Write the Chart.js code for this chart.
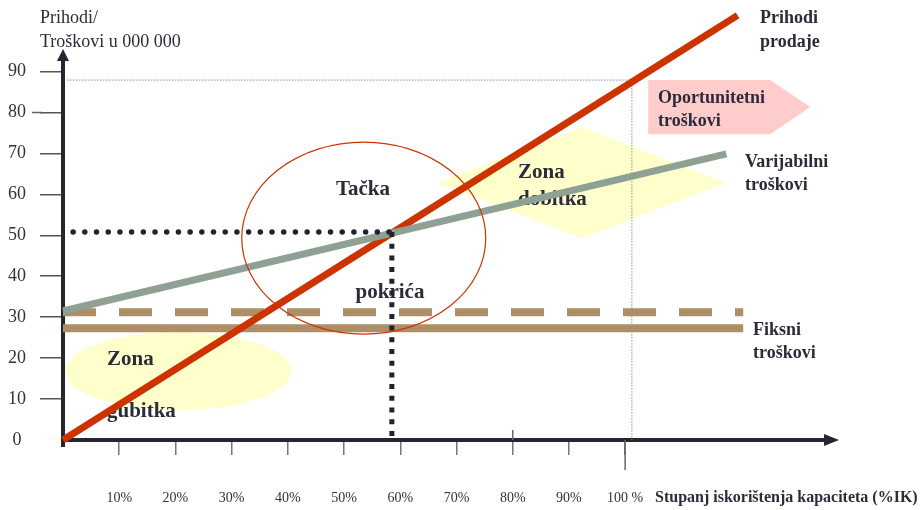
<!DOCTYPE html>
<html>
<head>
<meta charset="utf-8">
<script src="https://cdn.jsdelivr.net/npm/chart.js@4"></script>
<style>
html,body{margin:0;padding:0;background:#ffffff;}
#wrap{width:923px;height:510px;}
</style>
</head>
<body>
<div id="wrap"><canvas id="c" width="923" height="510"></canvas></div>
<script>
// ---- data (capacity in %, amounts in 000 000) ----
const revenuePct = [0, 100, 120];
const revenue = [0, 86.4, 103.7];
const varCostPct = [0, 100, 118];
const variableCost = [31.5, 64.0, 69.9];
const fixedPct = [0, 121];
const fixedCostDashed = [31.2, 31.2];
const fixedCost = [27.3, 27.3];
const breakEvenHPct = [1.8, 58.5];
const breakEvenHValue = [50.8, 50.8];
const breakEvenVPct = [58.5, 58.5];
const breakEvenVValue = [50.8, 0];
const fullCapPct = [0.7, 101.2, 101.2];
const fullCapValue = [87.9, 87.9, 0];
const xTicks = [10, 20, 30, 40, 50, 60, 70, 80, 90, 100];
const xTickLabels = ['10%', '20%', '30%', '40%', '50%', '60%', '70%', '80%', '90%', '100 %'];
const yTicks = [0, 10, 20, 30, 40, 50, 60, 70, 80, 90];

const pts = (xs, ys) => xs.map((v, i) => ({x: v, y: ys[i]}));
const SERIF = '"Liberation Serif", "Times New Roman", serif';
const TXT = '#2b2b3a';

const deco = {
  id: 'deco',
  beforeDatasetsDraw(chart) {
    const {ctx, scales: {x, y}} = chart;
    const X = v => x.getPixelForValue(v), Y = v => y.getPixelForValue(v);
    ctx.save();
    // zone of loss (ellipse)
    ctx.fillStyle = '#ffffcc';
    ctx.beginPath();
    ctx.ellipse(X(20.5), Y(16.8), 113, 39, 0, 0, Math.PI * 2);
    ctx.fill();
    // zone of profit (diamond)
    ctx.beginPath();
    ctx.moveTo(X(66.5), Y(62.8));
    ctx.lineTo(X(92.3), Y(76.4));
    ctx.lineTo(X(117.9), Y(62.8));
    ctx.lineTo(X(92.3), Y(49.3));
    ctx.closePath();
    ctx.fill();
    // opportunity cost arrow
    ctx.fillStyle = '#ffcccc';
    ctx.beginPath();
    ctx.moveTo(X(104.1), Y(87.9));
    ctx.lineTo(X(125.8), Y(87.9));
    ctx.lineTo(X(132.9), Y(81.3));
    ctx.lineTo(X(125.8), Y(74.7));
    ctx.lineTo(X(104.1), Y(74.7));
    ctx.closePath();
    ctx.fill();

    // axes with arrows
    const x0 = X(0), y0 = Y(0);
    ctx.strokeStyle = '#262633';
    ctx.fillStyle = '#262633';
    ctx.lineWidth = 4;
    ctx.beginPath();
    ctx.moveTo(x0, y0 + 7);
    ctx.lineTo(x0, 58);
    ctx.moveTo(x0 - 2, y0);
    ctx.lineTo(826, y0);
    ctx.stroke();
    ctx.beginPath();
    ctx.moveTo(x0, 49); ctx.lineTo(x0 - 6, 61); ctx.lineTo(x0 + 6, 61); ctx.closePath();
    ctx.fill();
    ctx.beginPath();
    ctx.moveTo(839, y0); ctx.lineTo(824, y0 - 6); ctx.lineTo(824, y0 + 6); ctx.closePath();
    ctx.fill();

    // extra tick details
    ctx.strokeStyle = '#666';
    ctx.lineWidth = 1.5;
    ctx.beginPath();
    ctx.moveTo(X(80), y0 - 10); ctx.lineTo(X(80), y0);
    ctx.moveTo(X(100), y0); ctx.lineTo(X(100), y0 + 30);
    ctx.moveTo(32, Y(80)); ctx.lineTo(42, Y(80));
    ctx.stroke();

    // inner labels
    ctx.fillStyle = TXT;
    ctx.textBaseline = 'middle';
    ctx.font = 'bold 21px ' + SERIF;
    ctx.textAlign = 'center';
    ctx.fillText('Tačka', 363, 190);
    ctx.fillText('pokrića', 390, 293);
    ctx.textAlign = 'left';
    ctx.fillText('Zona', 518, 173);
    ctx.fillText('dobitka', 518, 200);
    ctx.fillText('Zona', 107, 360);
    ctx.fillText('gubitka', 107, 412);
    ctx.restore();
  },
  afterDatasetsDraw(chart) {
    const {ctx, scales: {x, y}} = chart;
    const X = v => x.getPixelForValue(v), Y = v => y.getPixelForValue(v);
    ctx.save();
    // break-even circle
    ctx.strokeStyle = '#cc3300';
    ctx.lineWidth = 1.2;
    ctx.beginPath();
    ctx.ellipse(X(53.5), Y(49.3), 122, 96, 0, 0, Math.PI * 2);
    ctx.stroke();

    ctx.fillStyle = TXT;
    ctx.textBaseline = 'middle';
    ctx.textAlign = 'left';
    // y-axis title
    ctx.font = '18px ' + SERIF;
    ctx.fillText('Prihodi/', 40, 18);
    ctx.fillText('Troškovi u 000 000', 40, 42);
    // series labels
    ctx.font = 'bold 18px ' + SERIF;
    ctx.fillText('Prihodi', 760, 18);
    ctx.fillText('prodaje', 760, 42);
    ctx.fillText('Oportunitetni', 658, 98);
    ctx.fillText('troškovi', 658, 121);
    ctx.fillText('Varijabilni', 745, 162);
    ctx.fillText('troškovi', 745, 185);
    ctx.fillText('Fiksni', 753, 330);
    ctx.fillText('troškovi', 753, 353);
    // x-axis title
    ctx.font = 'bold 16px ' + SERIF;
    ctx.fillText('Stupanj iskorištenja kapaciteta (%IK)', 655, 498);
    ctx.restore();
  }
};

new Chart(document.getElementById('c'), {
  type: 'line',
  data: {
    datasets: [
      { label: 'bepH', data: pts(breakEvenHPct, breakEvenHValue), borderColor: '#22222e',
        borderWidth: 5.5, borderDash: [0, 11.7], borderCapStyle: 'round', pointRadius: 0, clip: false },
      { label: 'bepV', data: pts(breakEvenVPct, breakEvenVValue), borderColor: '#22222e',
        borderWidth: 5, borderDash: [5, 6.7], borderCapStyle: 'butt', pointRadius: 0, clip: false },
      { label: 'Varijabilni troškovi', data: pts(varCostPct, variableCost), borderColor: '#8fa094',
        borderWidth: 7, pointRadius: 0, clip: false },
      { label: 'Prihodi prodaje', data: pts(revenuePct, revenue), borderColor: '#cc3300',
        borderWidth: 7, pointRadius: 0, clip: false },
      { label: 'Fiksni (crtkano)', data: pts(fixedPct, fixedCostDashed), borderColor: '#ad8e66',
        borderWidth: 8, borderDash: [33, 23], borderCapStyle: 'butt', pointRadius: 0, clip: false },
      { label: 'Fiksni troškovi', data: pts(fixedPct, fixedCost), borderColor: '#ad8e66',
        borderWidth: 8, pointRadius: 0, clip: false },
      { label: 'guide', data: pts(fullCapPct, fullCapValue), borderColor: '#8a8a8a',
        borderWidth: 1, borderDash: [1.5, 1.5], pointRadius: 0, clip: false }
    ]
  },
  options: {
    responsive: false,
    animation: false,
    devicePixelRatio: 1,
    layout: { padding: { top: 10, right: 73, bottom: 0, left: 0 } },
    elements: { line: { tension: 0 } },
    plugins: { legend: { display: false }, tooltip: { enabled: false }, title: { display: false } },
    scales: {
      x: {
        type: 'linear', position: 'bottom', min: 0, max: 140,
        afterFit: s => { s.height = 70; },
        afterBuildTicks: s => { s.ticks = xTicks.map(v => ({ value: v })); },
        ticks: {
          autoSkip: false, maxRotation: 0, minRotation: 0, padding: 35,
          color: '#333', font: { family: SERIF, size: 14 },
          callback: v => { const i = xTicks.indexOf(v); return i >= 0 ? xTickLabels[i] : ''; }
        },
        grid: { drawOnChartArea: false, drawTicks: true, tickLength: 15, color: '#777', lineWidth: 1.5 },
        border: { display: false }
      },
      y: {
        type: 'linear', position: 'left', min: 0, max: 101.4,
        afterFit: s => { s.width = 63; },
        afterBuildTicks: s => { s.ticks = yTicks.map(v => ({ value: v })); },
        ticks: {
          crossAlign: 'center', padding: 14, color: '#333',
          font: { family: SERIF, size: 18 }
        },
        grid: {
          drawOnChartArea: false, drawTicks: true, tickLength: 23, lineWidth: 1.5,
          color: c => (c.tick && c.tick.value === 0) ? 'rgba(0,0,0,0)' : '#555'
        },
        border: { display: false }
      }
    }
  },
  plugins: [deco]
});
</script>
</body>
</html>
